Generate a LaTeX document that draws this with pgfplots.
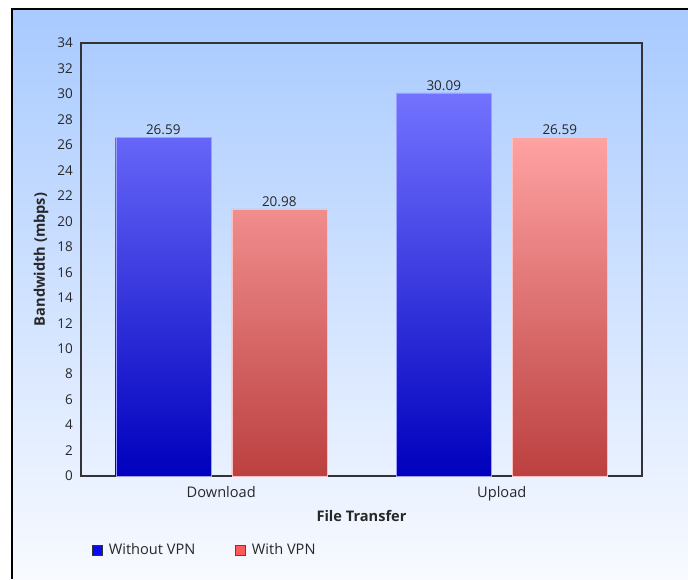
\documentclass[border=0pt]{standalone}
\usepackage{pgfplots}
\pgfplotsset{compat=1.18}
\usepackage{fontspec}
\setmainfont{Open Sans}
\definecolor{bgtop}{RGB}{168,202,255}
\definecolor{bgbot}{RGB}{248,250,255}
\definecolor{bluetop}{RGB}{115,115,255}
\definecolor{bluebot}{RGB}{0,0,190}
\definecolor{redtop}{RGB}{255,162,162}
\definecolor{redbot}{RGB}{188,64,64}
\definecolor{legblue}{RGB}{10,10,240}
\definecolor{legred}{RGB}{255,90,90}
\definecolor{axisgray}{RGB}{50,50,55}
\definecolor{txt}{RGB}{40,40,40}
\newcommand{\numfont}{\fontsize{13.5}{16}\selectfont}
\newcommand{\chartfont}{\fontsize{14.6}{17}\selectfont}
\begin{document}
\begin{tikzpicture}[x=1pt,y=1pt]
\path[use as bounding box] (0,0) rectangle (688,579);
\shade[top color=bgtop,bottom color=bgbot] (12,0) rectangle (688,570);
\draw[line width=2.5pt,black] (12,0) -- (12,570) -- (690,570);
\begin{axis}[
  at={(81pt,103pt)}, anchor=south west,
  scale only axis, width=561pt, height=433pt,
  ybar=21pt, bar width=95pt,
  xmin=-0.5, xmax=1.5, ymin=0, ymax=34,
  xtick={0,1}, xticklabels={Download,Upload},
  ytick={0,2,...,34},
  major tick length=0pt,
  axis line style={axisgray,line width=1.2pt},
  /pgf/number format/assume math mode=true,
  yticklabel style={font=\numfont, text=txt, inner sep=0pt, xshift=-8pt},
  xticklabel style={font=\chartfont, text=txt, inner sep=0pt, yshift=-10pt},
  xlabel={File Transfer},
  ylabel={Bandwidth (mbps)},
  every axis x label/.style={at={(axis description cs:0.5,-0.0924)},anchor=center,font=\chartfont\bfseries,text=txt},
  every axis y label/.style={at={(axis description cs:-0.0713,0.5)},rotate=90,anchor=center,font=\chartfont\bfseries,text=txt},
  nodes near coords={\pgfmathprintnumber[fixed,fixed zerofill,precision=2]{\pgfplotspointmeta}},
  nodes near coords style={font=\numfont, text=txt, anchor=south, inner sep=2pt},
  legend style={at={(axis description cs:0.0196,-0.171)}, anchor=west, draw=none, fill=none,
    inner sep=0pt, font=\chartfont, text=txt,
    /tikz/every even column/.append style={column sep=38pt}},
  legend columns=2,
  legend cell align=left,
]
\addplot[top color=bluetop, bottom color=bluebot, draw=bluetop!70!white,
  legend image code/.code={\draw[top color=legblue,bottom color=legblue,draw=black!80,line width=0.8pt] (0pt,-5pt) rectangle (10pt,5pt);\path (14pt,0pt);}]
  coordinates {(0,26.59) (1,30.09)};
\addlegendentry{Without VPN}
\addplot[top color=redtop, bottom color=redbot, draw=redtop!70!white,
  legend image code/.code={\draw[top color=legred,bottom color=legred,draw=black!70,line width=0.8pt] (0pt,-5pt) rectangle (10pt,5pt);\path (14pt,0pt);}]
  coordinates {(0,20.98) (1,26.59)};
\addlegendentry{With VPN}
\end{axis}
\end{tikzpicture}
\end{document}
